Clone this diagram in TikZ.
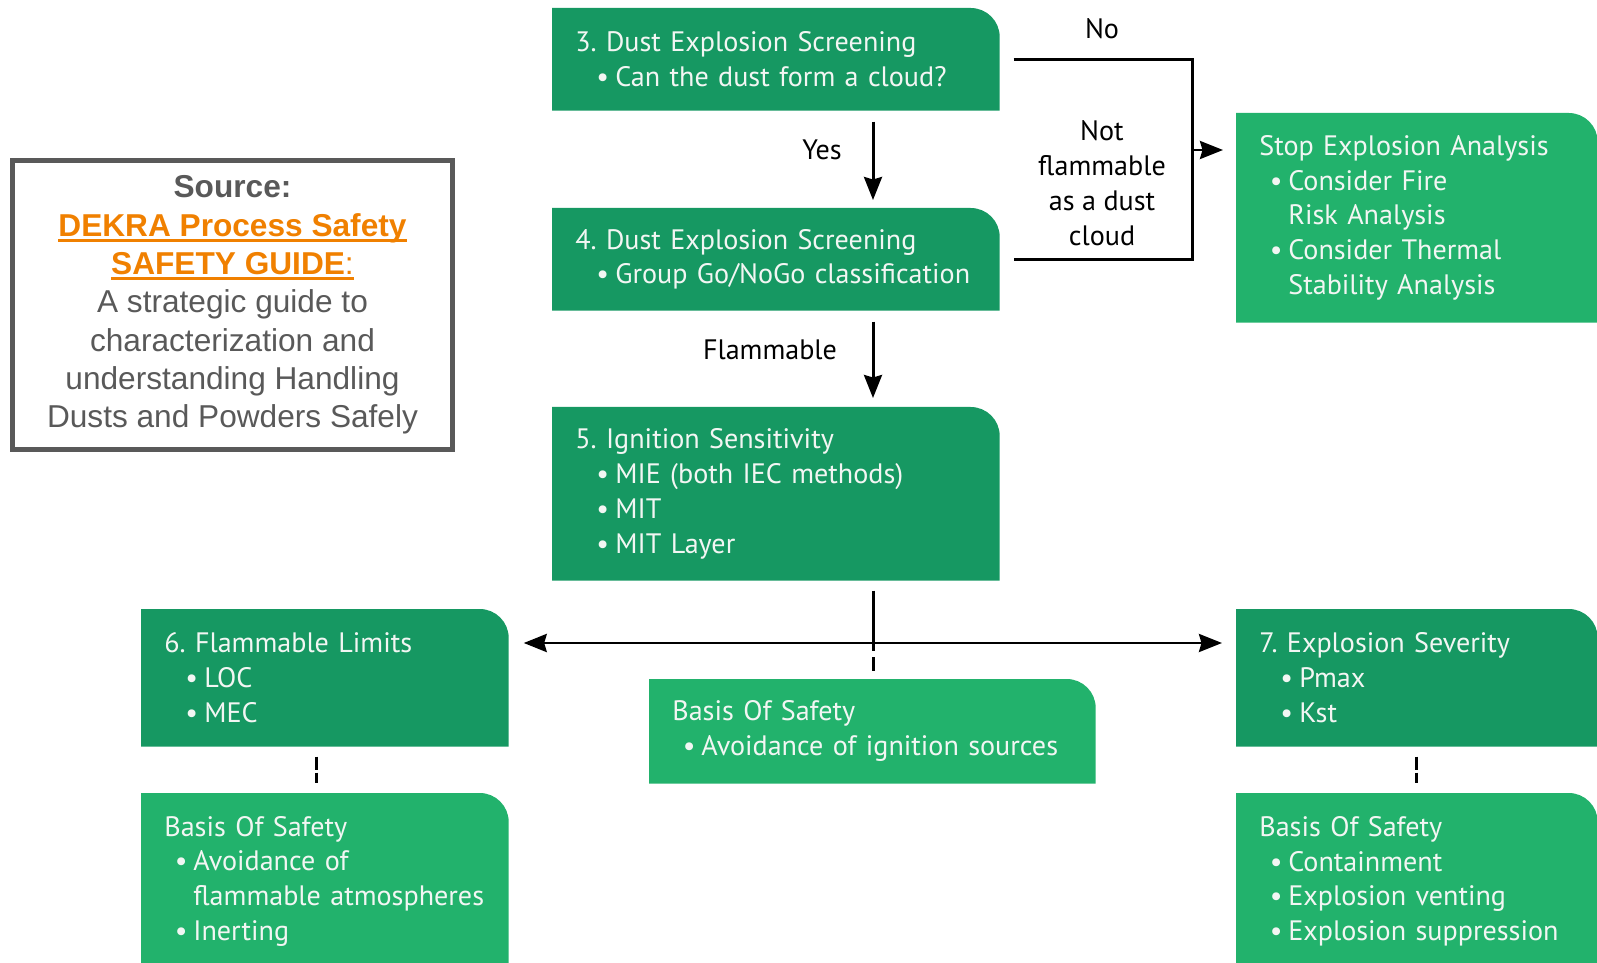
\documentclass[tikz,border=0pt]{standalone}
\usepackage{fontspec}
\setmainfont{PT Sans}
\newfontfamily\srcfont{Liberation Sans}
\usetikzlibrary{arrows.meta,backgrounds,calc}
\frenchspacing

\definecolor{dkgreen}{RGB}{22,152,98}
\definecolor{ltgreen}{RGB}{34,178,108}
\definecolor{srcgray}{RGB}{89,89,89}
\definecolor{srcorange}{RGB}{240,128,0}
\definecolor{boxtext}{RGB}{242,246,243}

\def\tabfill[#1](#2){\fill[#1] (#2.south west) -- (#2.north west) -- ([xshift=-0.58cm]#2.north east) arc (90:0:0.58) -- (#2.south east) -- cycle;}
\def\numitem{\hspace*{0.42cm}\makebox[0.38cm][l]{\textbullet}}
\def\safeitem{\hspace*{0.21cm}\makebox[0.37cm][l]{\textbullet}}
\def\safecont{\hspace*{0.58cm}}
\def\orul#1{\setbox0\hbox{#1}\rlap{\rule[-3.1pt]{\wd0}{1.5pt}}\box0}

\tikzset{
	box/.style={anchor=north west, inner xsep=0.46cm, inner ysep=0pt, align=left, text=boxtext, font=\fontsize{16}{19.8}\selectfont},
	lbl/.style={align=center, font=\fontsize{16}{19.8}\selectfont},
	conn/.style={line width=1.7pt},
	arr/.style={conn, -{Stealth[length=0.46cm,width=0.36cm,inset=0.05cm]}}
}

\begin{document}
\begin{tikzpicture}
			%%%%% FRAME %%%%%
			\useasboundingbox (0,0) rectangle (31.94,-19.26);
			\clip (0,0) rectangle (31.94,-19.26);
			
			%%%%% SOURCE %%%%%
			\node[draw=srcgray, line width=0.1cm, minimum width=8.8cm, minimum height=5.78cm, align=center, text=srcgray, font=\srcfont\fontsize{18}{21.8}\selectfont] (src) at (4.65,-6.1)
				{\textbf{Source:}\\ {\color{srcorange}\orul{\textbf{DEKRA Process Safety}}}\\ {\color{srcorange}\orul{\textbf{SAFETY GUIDE}:}}\\ A strategic guide to\\ characterization and\\ understanding Handling\\ Dusts and Powders Safely};
			
			%%%%% SCREENING %%%%%
			\node[box, text width=8.02cm, minimum height=2.04cm] (b3) at (11.04,-0.16)
				{3. Dust Explosion Screening\\ \numitem Can the dust form a cloud?};
			\node[box, text width=8.02cm, minimum height=2.04cm] (b4) at (11.04,-4.16)
				{4. Dust Explosion Screening\\ \numitem Group Go/NoGo classification};
			\node[box, text width=8.02cm, minimum height=3.46cm] (b5) at (11.04,-8.14)
				{5. Ignition Sensitivity\\ \numitem MIE (both IEC methods)\\ \numitem MIT\\ \numitem MIT Layer};
			
			\node[box, text width=6.30cm, minimum height=4.18cm] (stop) at (24.72,-2.26)
				{Stop Explosion Analysis\\ \safeitem Consider Fire\\ \safecont Risk Analysis\\ \safeitem Consider Thermal\\ \safecont Stability Analysis};
			
			%%%%% LIMITS / SEVERITY %%%%%
			\node[box, text width=6.42cm, minimum height=2.74cm] (b6) at (2.82,-12.18)
				{6. Flammable Limits\\ \numitem LOC\\ \numitem MEC};
			\node[box, text width=6.30cm, minimum height=2.74cm] (b7) at (24.72,-12.18)
				{7. Explosion Severity\\ \numitem Pmax\\ \numitem Kst};
			
			%%%%% BASIS OF SAFETY %%%%%
			\node[box, text width=8.00cm, minimum height=2.08cm] (bos) at (12.98,-13.58)
				{Basis Of Safety\\ \safeitem Avoidance of ignition sources};
			\node[box, text width=6.42cm, minimum height=3.52cm] (bosl) at (2.82,-15.86)
				{Basis Of Safety\\ \safeitem Avoidance of\\ \safecont flammable atmospheres\\ \safeitem Inerting};
			\node[box, text width=6.30cm, minimum height=3.52cm] (bosr) at (24.72,-15.86)
				{Basis Of Safety\\ \safeitem Containment\\ \safeitem Explosion venting\\ \safeitem Explosion suppression};
			
			\begin{scope}[on background layer]
				\tabfill[dkgreen](b3)
				\tabfill[dkgreen](b4)
				\tabfill[dkgreen](b5)
				\tabfill[ltgreen](stop)
				\tabfill[dkgreen](b6)
				\tabfill[dkgreen](b7)
				\tabfill[ltgreen](bos)
				\tabfill[ltgreen](bosl)
				\tabfill[ltgreen](bosr)
			\end{scope}
			
			%%%%% CONNECTORS %%%%%
			\coordinate (spine) at (17.46,0);
			\coordinate (fork) at (17.46,-12.86);
			\coordinate (nojoin) at (23.84,-3.0);
			
			\draw[arr, shorten <=0.22cm, shorten >=0.16cm] (b3.south -| spine) -- (b4.north -| spine);
			\draw[arr, shorten <=0.22cm, shorten >=0.18cm] (b4.south -| spine) -- (b5.north -| spine);
			\draw[conn, shorten <=0.2cm] (b5.south -| spine) -- (fork);
			\draw[conn, dash pattern=on 0.16cm off 0.12cm on 0.28cm off 1cm] (fork) -- (fork |- bos.north);
			\draw[arr, shorten >=0.3cm] (fork) -- (fork -| b6.east);
			\draw[arr, shorten >=0.28cm] (fork) -- (fork -| b7.west);
			
			\draw[conn, shorten <=0.28cm, shorten >=0.28cm] (b3.east) -| ([xshift=3.86cm]b4.east) -- (b4.east);
			\draw[arr, shorten >=0.26cm] (nojoin) -- (nojoin -| stop.west);
			
			\draw[conn, dash pattern=on 0.26cm off 0.06cm on 0.2cm off 1cm, shorten <=0.2cm] ([xshift=-0.17cm]b6.south) -- ([xshift=-0.17cm]bosl.north);
			\draw[conn, dash pattern=on 0.26cm off 0.06cm on 0.2cm off 1cm, shorten <=0.2cm] (b7.south) -- (bosr.north);
			
			%%%%% LABELS %%%%%
			\node[lbl] (yes) at (16.44,-3.0) {Yes};
			\node[lbl] (flam) at (15.4,-7.0) {Flammable};
			\node[lbl] (no) at (22.04,-0.58) {No};
			\node[lbl] (notflam) at (22.04,-3.66) {Not\\ flammable\\ as a dust\\ cloud};
			
\end{tikzpicture}
\end{document}
